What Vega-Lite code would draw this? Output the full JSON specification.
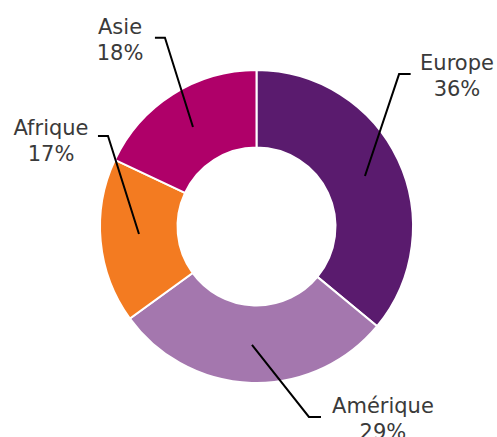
{
  "$schema": "https://vega.github.io/schema/vega-lite/v6.json",
  "width": 481,
  "height": 421,
  "padding": {"left": 16, "top": 16, "right": 0, "bottom": 0},
  "autosize": {"type": "none"},
  "background": "white",
  "config": {"view": {"stroke": null}},
  "datasets": {
    "parts": [
      {"region": "Europe", "part": 36, "ordre": 1},
      {"region": "Amérique", "part": 29, "ordre": 2},
      {"region": "Afrique", "part": 17, "ordre": 3},
      {"region": "Asie", "part": 18, "ordre": 4}
    ],
    "etiquettes": [
      {"region": "Asie", "x": -87.2, "y": 123.0},
      {"region": "Europe", "x": 128.1, "y": 100.0},
      {"region": "Afrique", "x": -131.3, "y": 58.5},
      {"region": "Amérique", "x": 80.8, "y": -119.2}
    ],
    "traits": [
      {"region": "Asie", "point": 1, "x": -64.9, "y": 120.6},
      {"region": "Asie", "point": 2, "x": -58.5, "y": 120.6},
      {"region": "Asie", "point": 3, "x": -40.6, "y": 63.6},
      {"region": "Europe", "point": 1, "x": 98.5, "y": 97.4},
      {"region": "Europe", "point": 2, "x": 91.1, "y": 97.4},
      {"region": "Europe", "point": 3, "x": 69.3, "y": 32.3},
      {"region": "Afrique", "point": 1, "x": -101.3, "y": 57.8},
      {"region": "Afrique", "point": 2, "x": -94.9, "y": 57.8},
      {"region": "Afrique", "point": 3, "x": -75.1, "y": -4.8},
      {"region": "Amérique", "point": 1, "x": -2.9, "y": -75.7},
      {"region": "Amérique", "point": 2, "x": 33.5, "y": -121.7},
      {"region": "Amérique", "point": 3, "x": 41.2, "y": -121.7}
    ]
  },
  "layer": [
    {
      "data": {"name": "parts"},
      "mark": {"type": "arc", "outerRadius": 156.5, "innerRadius": 79, "stroke": "white", "strokeWidth": 2},
      "encoding": {
        "theta": {"field": "part", "type": "quantitative", "stack": true},
        "order": {"field": "ordre", "type": "quantitative"},
        "color": {
          "field": "region",
          "type": "nominal",
          "scale": {"domain": ["Europe", "Amérique", "Afrique", "Asie"], "range": ["#5A1B6E", "#A477AE", "#F37B21", "#AF0069"]},
          "legend": null
        }
      }
    },
    {
      "data": {"name": "traits"},
      "mark": {"type": "line", "color": "#000000", "strokeWidth": 2},
      "encoding": {
        "x": {"field": "x", "type": "quantitative", "scale": {"domain": [-153.67, 153.67], "nice": false, "zero": false}, "axis": null},
        "y": {"field": "y", "type": "quantitative", "scale": {"domain": [-134.5, 134.5], "nice": false, "zero": false}, "axis": null},
        "detail": {"field": "region"},
        "order": {"field": "point", "type": "quantitative"}
      }
    },
    {
      "data": {"name": "etiquettes"},
      "transform": [
        {"lookup": "region", "from": {"data": {"name": "parts"}, "key": "region", "fields": ["part"]}},
        {"calculate": "datum.region + '\\n' + datum.part + '%'", "as": "texte"}
      ],
      "mark": {"type": "text", "font": "DejaVu Sans", "fontSize": 21, "lineHeight": 26, "lineBreak": "\n", "align": "center", "baseline": "alphabetic", "color": "#3A3A3A"},
      "encoding": {
        "x": {"field": "x", "type": "quantitative", "scale": {"domain": [-153.67, 153.67], "nice": false, "zero": false}, "axis": null},
        "y": {"field": "y", "type": "quantitative", "scale": {"domain": [-134.5, 134.5], "nice": false, "zero": false}, "axis": null},
        "text": {"field": "texte"}
      }
    }
  ]
}
